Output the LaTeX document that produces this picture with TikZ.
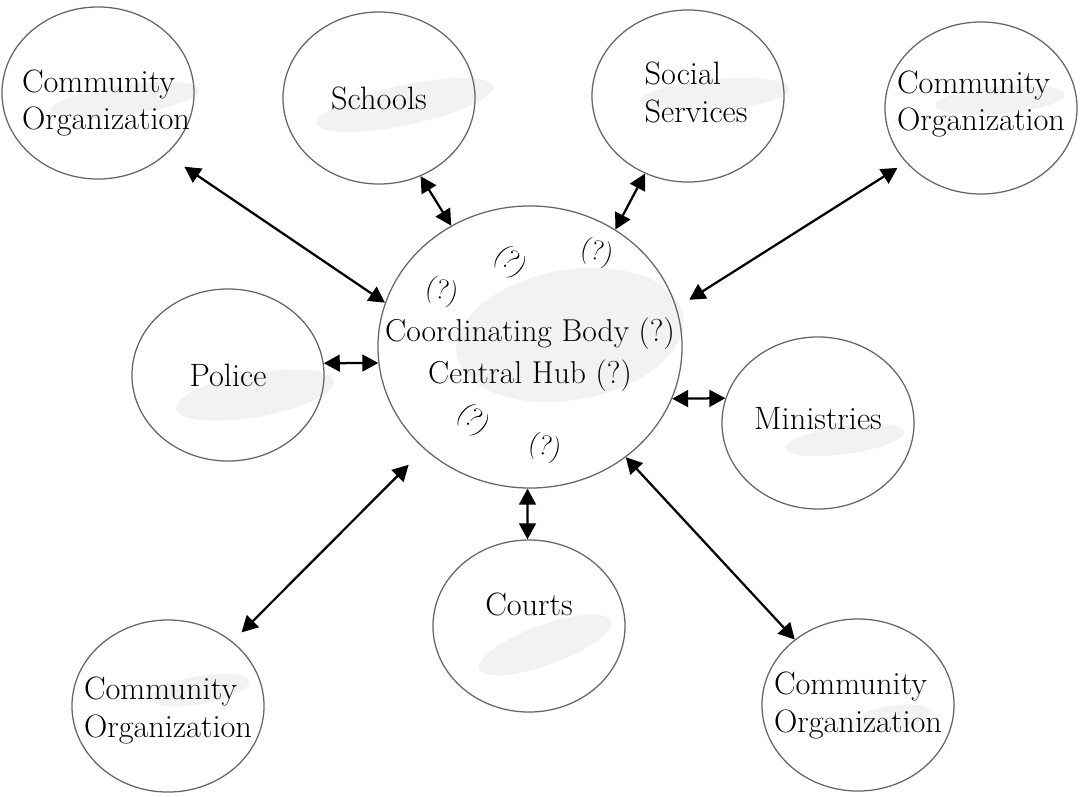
\documentclass[tikz,border=0pt]{standalone}
\usepackage{fontspec}
\usetikzlibrary{shapes.geometric,arrows.meta,positioning}

\tikzset{
	org/.style={ellipse, draw=black!60, line width=0.9pt, minimum width=4.8cm, minimum height=4.3cm, inner sep=0pt},
	hubnode/.style={org, minimum width=7.6cm, minimum height=7.05cm},
	txt/.style={font=\fontsize{23}{27}\selectfont, align=center, inner sep=0pt},
	orgtxt/.style={txt, align=left},
	hubtxt/.style={txt, font=\fontsize{22.5}{30}\selectfont},
	qmark/.style={font=\fontsize{20}{20}\selectfont, inner sep=0pt},
	link/.style={line width=1.6pt, {Triangle[length=4mm,width=4.2mm]}-{Triangle[length=4mm,width=4.2mm]}},
	smudge/.style={fill=black!5, draw=none}
}

\begin{document}
\begin{tikzpicture}[x=0.025cm, y=-0.025cm]
	\useasboundingbox (0,0) rectangle (1084,796);

	% grey smudges behind the texts
	\fill[smudge, rotate around={8:(125,100)}] (125,100) ellipse [x radius=75, y radius=15];
	\fill[smudge, rotate around={12:(405,105)}] (405,105) ellipse [x radius=90, y radius=20];
	\fill[smudge, rotate around={5:(715,95)}] (715,95) ellipse [x radius=75, y radius=16];
	\fill[smudge, rotate around={5:(1000,100)}] (1000,100) ellipse [x radius=65, y radius=14];
	\fill[smudge, rotate around={10:(255,395)}] (255,395) ellipse [x radius=80, y radius=22];
	\fill[smudge, rotate around={10:(570,335)}] (570,335) ellipse [x radius=115, y radius=65];
	\fill[smudge, rotate around={8:(845,440)}] (845,440) ellipse [x radius=60, y radius=14];
	\fill[smudge, rotate around={20:(545,645)}] (545,645) ellipse [x radius=70, y radius=20];
	\fill[smudge, rotate around={10:(200,690)}] (200,690) ellipse [x radius=50, y radius=14];
	\fill[smudge, rotate around={10:(890,718)}] (890,718) ellipse [x radius=40, y radius=12];

	\node[hubnode, label={[hubtxt, yshift=-0.2cm]center:Coordinating Body (?)\\Central Hub (?)}] (hub) at (530,347) {};

	\node[org, label={[orgtxt, xshift=0.2cm, yshift=-0.25cm]center:Community\\Organization}] (tlorg) at (98,93) {};
	\node[org, label={[txt]center:Schools}] (schools) at (379,98) {};
	\node[org, label={[orgtxt, xshift=0.2cm, yshift=0.1cm]center:Social\\Services}] (social) at (688,96) {};
	\node[org, label={[orgtxt, yshift=0.1cm]center:Community\\Organization}] (trorg) at (981,108) {};
	\node[org, label={[txt]center:Police}] (police) at (228,375) {};
	\node[org, label={[txt, yshift=0.1cm]center:Ministries}] (ministries) at (818,423) {};
	\node[org, label={[txt, yshift=0.55cm]center:Courts}] (courts) at (529,626) {};
	\node[org, label={[orgtxt, yshift=-0.12cm]center:Community\\Organization}] (blorg) at (168,706) {};
	\node[org, label={[orgtxt]center:Community\\Organization}] (brorg) at (858,705) {};

	\node[qmark, rotate=-15] (q1) at (442,292) {(?)};
	\node[qmark, rotate=-40] (q2) at (510,262) {(?)};
	\node[qmark, rotate=-15] (q3) at (597,253) {(?)};
	\node[qmark, rotate=-40] (q4) at (473,420) {(?)};
	\node[qmark, rotate=-15] (q5) at (545,448) {(?)};

	\draw[link, shorten <=0.55cm] (tlorg.-42.5) -- (hub.163.7);
	\draw[link] (schools.-62.9) -- (hub.123.5);
	\draw[link] (social.-119.7) -- (hub.54.5);
	\draw[link, shorten <=0.37cm, shorten >=0.25cm] (hub.15.4) -- (trorg.-144.9);
	\draw[link] (police.7) -- (hub.186.4);
	\draw[link] (hub.-20) -- (ministries.165.4);
	\draw[link] (hub.-91) -- (courts.91);
	\draw[link, shorten <=0.55cm, shorten >=0.32cm] (hub.-136.7) -- (blorg.45.8);
	\draw[link] (hub.-49.8) -- (brorg.134.1);
\end{tikzpicture}
\end{document}
